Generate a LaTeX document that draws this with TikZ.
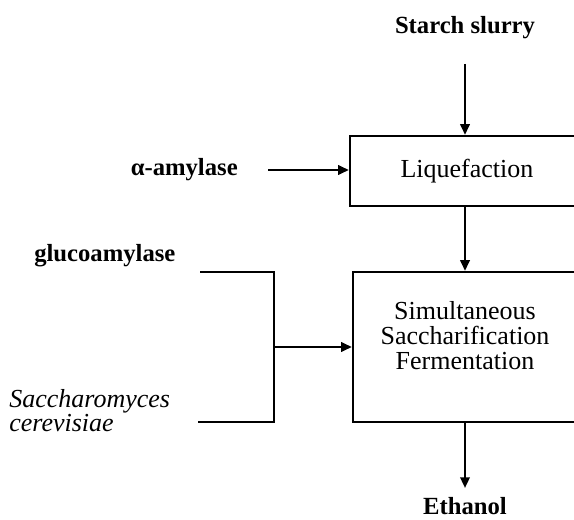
\documentclass[tikz,border=0pt]{standalone}
\usepackage{fontspec}
\setmainfont{Liberation Serif}
\usetikzlibrary{arrows.meta}
\begin{document}
\begin{tikzpicture}[x=0.75pt,y=-0.75pt,
  lbl/.style={font=\fontsize{18.5}{20}\selectfont\bfseries, inner sep=0pt},
  boxtxt/.style={font=\fontsize{19.5}{18.7}\selectfont, inner sep=0pt, align=center},
  box/.style={draw, line width=1.7pt, inner sep=0pt},
  ln/.style={line width=1.7pt},
  arr/.style={line width=1.7pt, -{Triangle[length=8pt,width=7pt]}}]
\useasboundingbox (0,0) rectangle (574,520);
\clip (0,0) rectangle (574,520);
% boxes
\node[box, minimum width=234*0.75pt, minimum height=70*0.75pt, boxtxt] (liq) at (467,171) {Liquefaction};
\node[box, minimum width=225*0.75pt, minimum height=150*0.75pt] (ssf) at (465.5,347) {};
\node[boxtxt] (ssftxt) at (465,336) {Simultaneous\\Saccharification\\Fermentation};
% labels
\node[lbl] (starch) at (465,28) {Starch slurry};
\node[lbl, anchor=east] (alpha) at (238,170) {α-amylase};
\node[lbl, anchor=west] (gluco) at (34,256) {glucoamylase};
\node[font=\fontsize{19.5}{18}\selectfont\itshape, anchor=west, align=left, inner sep=0pt] (sacc) at (9,411) {Saccharomyces\\cerevisiae};
\node[lbl] (eth) at (465,506) {Ethanol};
% coordinates
\coordinate (sa) at (465,64);
\coordinate (aa) at (268,170);
\coordinate (g1) at (200,272);
\coordinate (s1) at (198,422);
\coordinate (jt) at (274,272);
\coordinate (jb) at (274,422);
\coordinate (jm) at (274,347);
\coordinate (ee) at (465,488);
% connectors
\draw[arr] (sa) -- (sa |- liq.north);
\draw[arr] (aa) -- (aa -| liq.west);
\draw[arr] (sa |- liq.south) -- (sa |- ssf.north);
\draw[ln] (g1) -- (jt) -- (jb) -- (s1);
\draw[arr] (jm) -- (jm -| ssf.west);
\draw[arr] (sa |- ssf.south) -- (ee);
\end{tikzpicture}
\end{document}
